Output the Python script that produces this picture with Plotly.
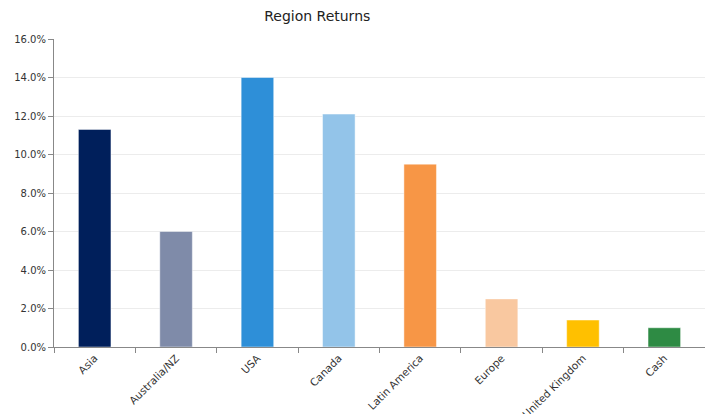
import plotly.graph_objects as go

categories = ["Asia", "Australia/NZ", "USA", "Canada", "Latin America", "Europe", "United Kingdom", "Cash"]
returns = [0.113, 0.060, 0.140, 0.121, 0.095, 0.025, 0.014, 0.010]
colors = ["#001f5b", "#7f8ba9", "#2e8fd8", "#93c4e9", "#f79646", "#f9c8a0", "#ffc000", "#2e8b44"]
y_ticks = [0.0, 0.02, 0.04, 0.06, 0.08, 0.10, 0.12, 0.14, 0.16]

fig = go.Figure(go.Bar(
    x=categories, y=returns,
    marker=dict(color=colors, line=dict(color="rgba(255,255,255,0.45)", width=1)),
))

fig.update_layout(
    width=705, height=414,
    margin=dict(l=54, r=0, t=39, b=67),
    paper_bgcolor="white", plot_bgcolor="white",
    bargap=0.6,
    showlegend=False,
    font=dict(family="DejaVu Sans, Verdana, sans-serif", size=10, color="#333"),
    title=dict(text="Region Returns", x=0.45, xanchor="center", y=1 - 11 / 414, yanchor="top",
               font=dict(size=14, color="#222")),
)
fig.update_yaxes(
    range=[0, 0.16], tickvals=y_ticks, tickformat=".1%",
    showgrid=True, gridcolor="#ececec", gridwidth=1,
    showline=True, linecolor="#888", linewidth=1,
    ticks="outside", ticklen=5, tickcolor="#888",
    zeroline=False, automargin=False,
)
fig.update_xaxes(
    tickangle=-45, showline=True, linecolor="#888", linewidth=1,
    ticks="outside", ticklen=5, tickcolor="#888", tickson="boundaries",
    showgrid=False, range=[-0.5, 7.5], automargin=False,
    tickfont=dict(size=10.5),
)

fig.write_html("out.html")
